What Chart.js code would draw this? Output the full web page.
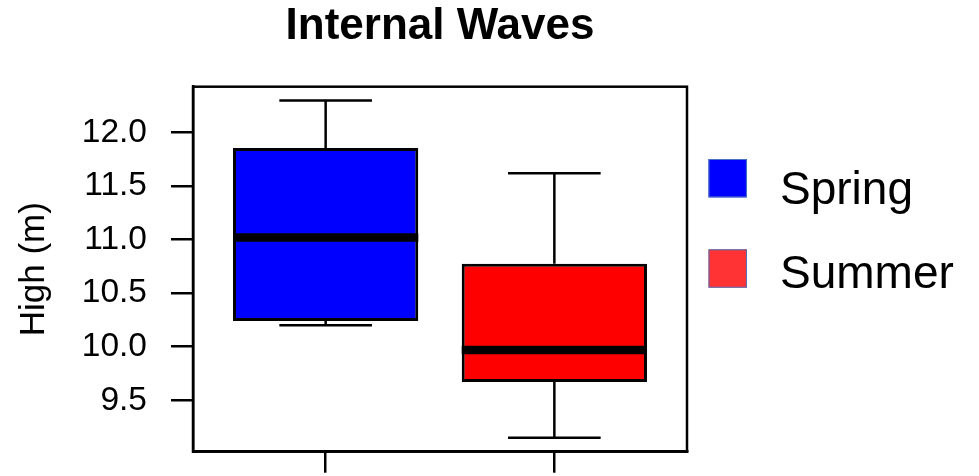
<!DOCTYPE html>
<html>
<head>
<meta charset="utf-8">
<script src="https://cdn.jsdelivr.net/npm/chart.js@4/dist/chart.umd.min.js"></script>
<style>
  html, body { margin: 0; padding: 0; background: #ffffff; }
  #chart { display: block; }
</style>
</head>
<body>
<canvas id="chart" width="979" height="476"></canvas>
<script>
// Seasonal groups and their five-number summaries (metres)
const groups = ['Spring', 'Summer'];
const groupPositions = [1, 2];
const whiskerLow = [10.20, 9.15];
const quartile1 = [10.24, 9.67];
const medians = [11.02, 9.97];
const quartile3 = [11.855, 10.775];
const whiskerHigh = [12.30, 11.62];
const boxColors = ['#0000ff', '#ff0000'];
const legendColors = ['#0000ff', '#ff3333'];
const yTickValues = [9.5, 10.0, 10.5, 11.0, 11.5, 12.0];

const FONT = "'Liberation Sans', Arial, Helvetica, sans-serif";

// Whiskers, staples and the heavy median bar for each box
const boxWhiskers = {
  id: 'boxWhiskers',
  afterDatasetsDraw(chart) {
    const { ctx, scales: { y } } = chart;
    const meta = chart.getDatasetMeta(0);
    ctx.save();
    ctx.strokeStyle = '#000000';
    ctx.lineCap = 'butt';
    meta.data.forEach((bar, i) => {
      const cx = bar.x;
      const half = bar.width / 2;
      const capHalf = half / 2;
      const yHi = y.getPixelForValue(whiskerHigh[i]);
      const yQ3 = y.getPixelForValue(quartile3[i]);
      const yQ1 = y.getPixelForValue(quartile1[i]);
      const yLo = y.getPixelForValue(whiskerLow[i]);
      const yMed = y.getPixelForValue(medians[i]);
      ctx.lineWidth = 2.5;
      ctx.beginPath();
      ctx.moveTo(cx, yQ3); ctx.lineTo(cx, yHi);
      ctx.moveTo(cx, yQ1); ctx.lineTo(cx, yLo);
      ctx.moveTo(cx - capHalf, yHi); ctx.lineTo(cx + capHalf, yHi);
      ctx.moveTo(cx - capHalf, yLo); ctx.lineTo(cx + capHalf, yLo);
      ctx.stroke();
      ctx.lineWidth = 8.5;
      ctx.beginPath();
      ctx.moveTo(cx - half, yMed); ctx.lineTo(cx + half, yMed);
      ctx.stroke();
    });
    ctx.restore();
  }
};

// Closed frame around the plotting region
const plotFrame = {
  id: 'plotFrame',
  afterDatasetsDraw(chart) {
    const { ctx, chartArea: a } = chart;
    ctx.save();
    ctx.strokeStyle = '#000000';
    ctx.lineWidth = 2.5;
    ctx.strokeRect(a.left, a.top, a.right - a.left, a.bottom - a.top);
    ctx.restore();
  }
};

// Square-key legend to the right of the plot
const sideLegend = {
  id: 'sideLegend',
  afterDraw(chart) {
    const { ctx, chartArea: a } = chart;
    const keyX = a.right + 21.5;
    const keySize = 38.4;
    const textX = a.right + 93;
    ctx.save();
    ctx.font = '46px ' + FONT;
    ctx.textAlign = 'left';
    ctx.textBaseline = 'alphabetic';
    groups.forEach((name, i) => {
      const keyY = a.top + 72.3 + i * 90.3;
      ctx.fillStyle = legendColors[i];
      ctx.fillRect(keyX, keyY, keySize, keySize);
      ctx.strokeStyle = '#4a72c0';
      ctx.lineWidth = 1;
      ctx.strokeRect(keyX + 0.5, keyY + 0.5, keySize - 1, keySize - 1);
      ctx.fillStyle = '#000000';
      ctx.fillText(name, textX, a.top + 117.3 + i * 84);
    });
    ctx.restore();
  }
};

new Chart(document.getElementById('chart'), {
  type: 'bar',
  data: {
    datasets: [{
      label: 'High (m)',
      data: groups.map((g, i) => ({ x: groupPositions[i], y: [quartile1[i], quartile3[i]] })),
      backgroundColor: boxColors,
      borderColor: '#000000',
      borderWidth: 3,
      borderSkipped: false,
      barPercentage: 0.81,
      categoryPercentage: 1
    }]
  },
  options: {
    responsive: false,
    animation: false,
    events: [],
    layout: { padding: { left: 0, right: 292, top: 0, bottom: 0 }, autoPadding: false },
    plugins: {
      legend: { display: false },
      tooltip: { enabled: false },
      title: {
        display: true,
        text: 'Internal Waves',
        fullSize: false,
        color: '#000000',
        font: { family: FONT, size: 44, weight: 'bold', lineHeight: 1.2 },
        padding: { top: 0.7, bottom: 33.2 }
      }
    },
    scales: {
      x: {
        type: 'linear',
        position: 'bottom',
        min: 0.42,
        max: 2.58,
        offset: false,
        afterBuildTicks: s => { s.ticks = groupPositions.map(v => ({ value: v })); },
        ticks: { display: false },
        grid: { offset: false, drawOnChartArea: false, drawTicks: true, tickLength: 21, color: '#000000', lineWidth: 2.5 },
        border: { display: true, color: '#000000', width: 2.5 },
        afterFit: s => { s.height = 24.3; s.paddingLeft = 0; s.paddingRight = 0; }
      },
      y: {
        type: 'linear',
        min: 9.02,
        max: 12.428,
        afterBuildTicks: s => { s.ticks = yTickValues.map(v => ({ value: v })); },
        ticks: {
          color: '#000000',
          padding: 24,
          font: { family: FONT, size: 33.5 },
          callback: v => Number(v).toFixed(1)
        },
        grid: { drawOnChartArea: false, drawTicks: true, tickLength: 22, color: '#000000', lineWidth: 2.5 },
        border: { display: true, color: '#000000', width: 2.5 },
        title: {
          display: true,
          text: 'High (m)',
          color: '#000000',
          font: { family: FONT, size: 35, lineHeight: 1.2 },
          padding: { top: 13.6, bottom: 0 }
        },
        afterFit: s => { s.width = 193; s.paddingTop = 0; s.paddingBottom = 0; }
      }
    }
  },
  plugins: [boxWhiskers, plotFrame, sideLegend]
});
</script>
</body>
</html>
